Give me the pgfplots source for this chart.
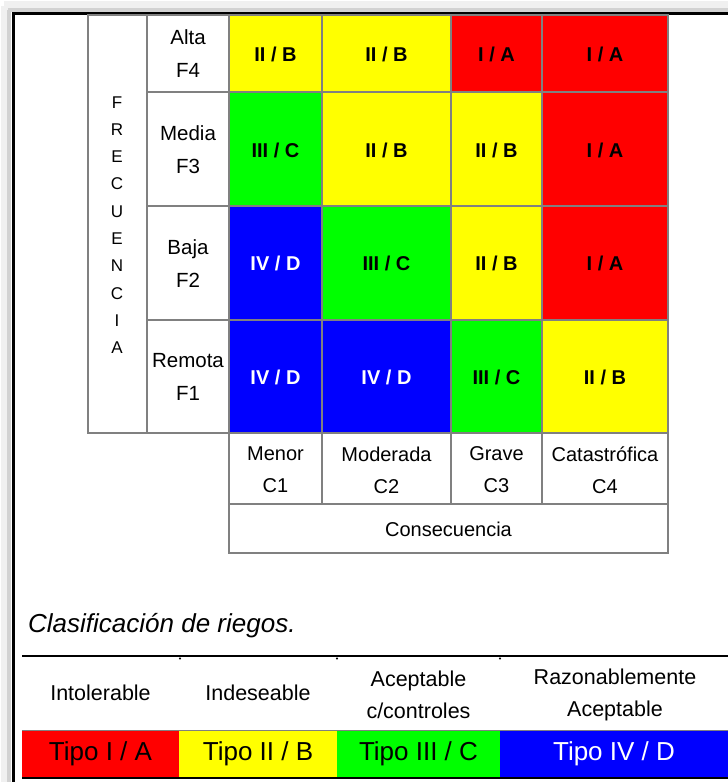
\documentclass[border=0pt]{standalone}
\usepackage{pgfplots}
\pgfplotsset{compat=1.18}
\usepackage{fontspec}
\setmainfont{Liberation Sans}
\definecolor{cR}{RGB}{255,0,0}
\definecolor{cY}{RGB}{255,255,0}
\definecolor{cG}{RGB}{0,255,0}
\definecolor{cB}{RGB}{0,0,255}
\definecolor{gline}{RGB}{128,128,128}
\newcommand{\cell}[5]{\addplot[fill=#5, draw=gline, line width=2.5pt] coordinates {(#1,#3) (#2,#3) (#2,#4) (#1,#4)} -- cycle;}
\newcommand{\lcell}[5]{\addplot[fill=#5, draw=none] coordinates {(#1,#3) (#2,#3) (#2,#4) (#1,#4)} -- cycle;}
\newcommand{\seg}[5]{\addplot[#5] coordinates {(#1,#2) (#3,#4)};}
\begin{document}
\begin{tikzpicture}
\path[use as bounding box] (0,0) rectangle (728pt,782pt);
\begin{axis}[at={(0,0)}, anchor=south west, width=728pt, height=782pt, scale only axis,
  xmin=0, xmax=728, ymin=0, ymax=782, y dir=reverse, hide axis, clip=false]
% frame shadow
\seg{4}{6}{728}{6}{gray!12, line width=10pt}
\seg{6}{6}{6}{782}{gray!12, line width=10pt}
\seg{8}{10}{728}{10}{gray!35, line width=4pt}
\seg{9}{10}{9}{782}{gray!35, line width=4pt}
\seg{12}{13.5}{728}{13.5}{black, line width=3pt}
\seg{13.5}{12}{13.5}{782}{black, line width=3pt}
% frequency box
\cell{88}{147}{15}{433}{white}
\cell{147}{229}{15}{92}{white}
\cell{147}{229}{92}{206}{white}
\cell{147}{229}{206}{320}{white}
\cell{147}{229}{320}{433}{white}
% matrix row F4
\cell{229}{322}{15}{92}{cY}
\cell{322}{451}{15}{92}{cY}
\cell{451}{542}{15}{92}{cR}
\cell{542}{668}{15}{92}{cR}
% F3
\cell{229}{322}{92}{206}{cG}
\cell{322}{451}{92}{206}{cY}
\cell{451}{542}{92}{206}{cY}
\cell{542}{668}{92}{206}{cR}
% F2
\cell{229}{322}{206}{320}{cB}
\cell{322}{451}{206}{320}{cG}
\cell{451}{542}{206}{320}{cY}
\cell{542}{668}{206}{320}{cR}
% F1
\cell{229}{322}{320}{433}{cB}
\cell{322}{451}{320}{433}{cB}
\cell{451}{542}{320}{433}{cG}
\cell{542}{668}{320}{433}{cY}
% consequence
\cell{229}{322}{433}{504}{white}
\cell{322}{451}{433}{504}{white}
\cell{451}{542}{433}{504}{white}
\cell{542}{668}{433}{504}{white}
\cell{229}{668}{504}{553}{white}
% legend
\lcell{22}{179}{731}{777}{cR}
\lcell{179}{337}{731}{777}{cY}
\lcell{337}{500}{731}{777}{cG}
\lcell{500}{728}{731}{777}{cB}
\seg{22}{656}{728}{656}{black, line width=2pt}
\seg{22}{730.5}{728}{730.5}{gline, line width=1.5pt}
\seg{22}{778}{728}{778}{black, line width=2.5pt}
\addplot[only marks, mark=*, mark size=0.9pt, black] coordinates {(180,658.5) (337,658.5) (500,658.5)};
% texts
\begin{scope}[every node/.style={inner sep=0pt, align=center}]
\node[font=\fontsize{17}{27.3}\selectfont] at (axis cs:117,225) {F\\R\\E\\C\\U\\E\\N\\C\\I\\A};
\node[font=\fontsize{20.5}{33}\selectfont] at (axis cs:188,54) {Alta\\F4};
\node[font=\fontsize{20.5}{33}\selectfont] at (axis cs:188,150) {Media\\F3};
\node[font=\fontsize{20.5}{33}\selectfont] at (axis cs:188,264) {Baja\\F2};
\node[font=\fontsize{20.5}{33}\selectfont] at (axis cs:188,377) {Remota\\F1};
\node[font=\fontsize{20}{32}\selectfont] at (axis cs:275.5,470) {Menor\\C1};
\node[font=\fontsize{20}{32}\selectfont] at (axis cs:386.5,470) {Moderada\\C2};
\node[font=\fontsize{20}{32}\selectfont] at (axis cs:496.5,470) {Grave\\C3};
\node[font=\fontsize{20}{32}\selectfont] at (axis cs:605,470) {Catastrófica\\C4};
\node[font=\fontsize{20}{24}\selectfont] at (axis cs:448.5,529) {Consecuencia};
% cell labels
\begin{scope}[every node/.append style={font=\fontsize{20}{24}\selectfont\bfseries}]
\node at (axis cs:275.5,54) {II / B};
\node at (axis cs:386.5,54) {II / B};
\node at (axis cs:496.5,54) {I / A};
\node at (axis cs:605,54) {I / A};
\node at (axis cs:275.5,150) {III / C};
\node at (axis cs:386.5,150) {II / B};
\node at (axis cs:496.5,150) {II / B};
\node at (axis cs:605,150) {I / A};
\node[white] at (axis cs:275.5,263) {IV / D};
\node at (axis cs:386.5,263) {III / C};
\node at (axis cs:496.5,263) {II / B};
\node at (axis cs:605,263) {I / A};
\node[white] at (axis cs:275.5,377) {IV / D};
\node[white] at (axis cs:386.5,377) {IV / D};
\node at (axis cs:496.5,377) {III / C};
\node at (axis cs:605,377) {II / B};
\end{scope}
\node[anchor=base west, font=\fontsize{26}{30}\selectfont\itshape] at (axis cs:28,632) {Clasificación de riegos.};
\node[font=\fontsize{21.5}{32}\selectfont] at (axis cs:100.5,693) {Intolerable};
\node[font=\fontsize{21.5}{32}\selectfont] at (axis cs:258,693) {Indeseable};
\node[font=\fontsize{21.5}{32}\selectfont] at (axis cs:418.5,695) {Aceptable\\c/controles};
\node[font=\fontsize{21.5}{32}\selectfont] at (axis cs:615,695) {Razonablemente\\Aceptable};
\node[font=\fontsize{26}{30}\selectfont] at (axis cs:100.5,754) {Tipo I / A};
\node[font=\fontsize{26}{30}\selectfont] at (axis cs:258,754) {Tipo II / B};
\node[font=\fontsize{26}{30}\selectfont] at (axis cs:418.5,754) {Tipo III / C};
\node[font=\fontsize{26}{30}\selectfont, white] at (axis cs:614,754) {Tipo IV / D};
\end{scope}
\end{axis}
\end{tikzpicture}
\end{document}
